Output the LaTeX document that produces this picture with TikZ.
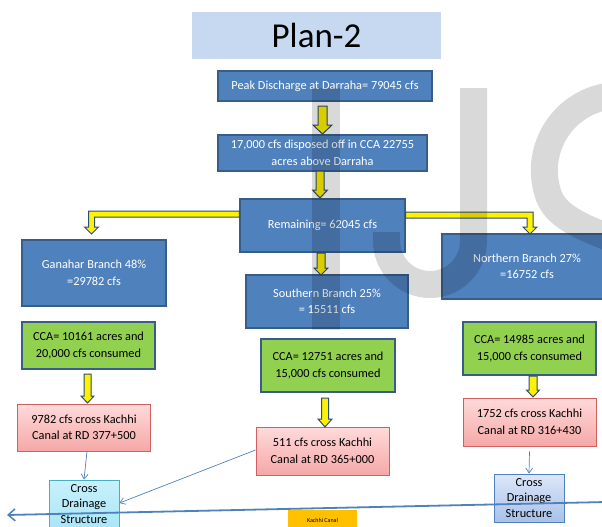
\documentclass[tikz,border=0pt]{standalone}
\usepackage{fontspec}
\setmainfont{Carlito}
\usetikzlibrary{arrows.meta,calc}
\definecolor{boxblue}{HTML}{4F81BD}
\definecolor{blueedge}{HTML}{385D8A}
\definecolor{titleblue}{HTML}{C6D9F1}
\definecolor{boxgreen}{HTML}{92D050}
\definecolor{rededge}{HTML}{D0605D}
\definecolor{redtop}{HTML}{FFDADA}
\definecolor{redbot}{HTML}{F5A8A7}
\definecolor{cyantop}{HTML}{C8F1FB}
\definecolor{cyanbot}{HTML}{A9E6F7}
\definecolor{cyanedge}{HTML}{4BACC6}
\definecolor{lbtop}{HTML}{DDE7F8}
\definecolor{lbbot}{HTML}{A7C1EA}
\definecolor{arrowedge}{HTML}{2C4D75}
\definecolor{canalorange}{HTML}{FFC000}
\newcommand\yarr[6]{%
  \draw[yarrow] (#1-#5,#2) -- (#1+#5,#2) -- (#1+#5,#3) -- (#1+#6,#3) -- (#1,#4) -- (#1-#6,#3) -- (#1-#5,#3) -- cycle;}
\begin{document}
\begin{tikzpicture}[x=1pt,y=-1pt,
  txt/.style={font=\fontsize{12.3}{16.5}\selectfont, align=center, inner sep=0pt},
  bluebox/.style={txt, draw=blueedge, line width=1.2pt, fill=boxblue, text=white},
  greenbox/.style={txt, draw=blueedge, line width=1.2pt, fill=boxgreen, text=black},
  redbox/.style={txt, draw=rededge, line width=0.9pt, top color=redtop, bottom color=redbot, text=black},
  cdtxt/.style={font=\fontsize{12.3}{15.5}\selectfont, align=center, inner sep=0pt},
  cdcyan/.style={cdtxt, draw=cyanedge, line width=0.9pt, top color=cyantop, bottom color=cyanbot, text=black},
  cdblue/.style={cdtxt, draw=boxblue, line width=0.9pt, top color=lbtop, bottom color=lbbot, text=black},
  yarrow/.style={draw=arrowedge, line width=1pt, fill=yellow, line join=miter},
  thinarr/.style={draw=boxblue, line width=0.7pt, -{Straight Barb[length=5pt,width=7pt]}},
  canal/.style={draw=boxblue, line width=1.8pt, -{Straight Barb[length=7pt,width=12pt,line width=1.5pt]}},
  wmark/.style={draw=black, draw opacity=0.15, line width=27pt}
]
\useasboundingbox (0,0) rectangle (602,527);

% title
\node[fill=titleblue, minimum width=249pt, minimum height=47pt, inner sep=0pt,
      font=\fontsize{35}{40}\selectfont] (title) at (316.5,35.5) {Plan-2};

% blue boxes
\node[bluebox, minimum width=214pt, minimum height=30pt] (peak) at (325,86) {Peak Discharge at Darraha= 79045 cfs};
\node[bluebox, minimum width=209pt, minimum height=36pt] (disp) at (322.5,153) {17,000 cfs disposed off in CCA 22755\\acres above Darraha};
\node[bluebox, minimum width=165pt, minimum height=53pt] (rem) at (322.5,225.5) {Remaining= 62045 cfs};
\node[bluebox, minimum width=144pt, minimum height=66pt] (gan) at (94,273) {Ganahar Branch 48\%\\=29782 cfs};
\node[bluebox, minimum width=162pt, minimum height=53pt] (sou) at (327,301.5) {Southern Branch 25\%\\= 15511 cfs};
\node[bluebox, minimum width=170pt, minimum height=65pt] (nor) at (527,266.5) {Northern Branch 27\%\\=16752 cfs};

% green boxes
\node[greenbox, minimum width=133pt, minimum height=47pt] (g1) at (88.5,345.5) {CCA= 10161 acres and\\20,000 cfs consumed};
\node[greenbox, minimum width=134pt, minimum height=53pt] (g2) at (328,365.5) {CCA= 12751 acres and\\15,000 cfs consumed};
\node[greenbox, minimum width=133pt, minimum height=53pt] (g3) at (529.5,348.5) {CCA= 14985 acres and\\15,000 cfs consumed};

% red boxes
\node[redbox, minimum width=133pt, minimum height=47pt] (r1) at (84,427.5) {9782 cfs cross Kachhi\\Canal at RD 377+500};
\node[redbox, minimum width=133pt, minimum height=48pt] (r2) at (322.5,451) {511 cfs cross Kachhi\\Canal at RD 365+000};
\node[redbox, minimum width=133pt, minimum height=48pt] (r3) at (529.5,422) {1752 cfs cross Kachhi\\Canal at RD 316+430};

% cross drainage structures
\node[cdcyan, minimum width=70pt, minimum height=48pt] (cd1) at (84,504) {Cross\\Drainage\\Structure};
\node[cdblue, minimum width=70pt, minimum height=48pt] (cd2) at (529,498) {Cross\\Drainage\\Structure};

% canal label
\node[fill=canalorange, minimum width=69pt, minimum height=20pt, inner sep=0pt,
      font=\fontsize{6}{7}\selectfont] (kc) at (322.5,520) {Kachhi Canal};

% yellow block arrows
\yarr{322.5}{106}{125}{134}{4.5}{9.5}
\yarr{320}{171}{190}{198}{4}{7.5}
\yarr{321}{253}{268}{275}{4}{7}
\yarr{87.5}{374}{396}{403}{3.5}{6.5}
\yarr{325}{398}{419}{427}{3.5}{7}
\yarr{533}{376}{390}{397}{4}{6.5}
% elbow arrows
\draw[yarrow] (rem.west |- 0,211) -- (88.5,211) -- (88.5,227) -- (84.5,227) -- (91.5,234)
  -- (98.5,227) -- (94.5,227) -- (94.5,217) -- (rem.west |- 0,217) -- cycle;
\draw[yarrow] (rem.east |- 0,212) -- (533,212) -- (533,227) -- (537,227) -- (530,234)
  -- (523,227) -- (527,227) -- (527,218) -- (rem.east |- 0,218) -- cycle;

% thin connectors
\draw[thinarr] ($(r1.south)+(3,0)$) -- (cd1.north);
\draw[thinarr] ($(r2.west)+(0,-1)$) -- ($(cd1.east)+(0,-1)$);
\draw[thinarr] ($(r3.south)+(0,5)$) -- (cd2.north);

% Kachhi canal line
\coordinate (cR) at (606,502);
\coordinate (cL) at (7,515);
\draw[canal] (cR) -- (cL);

% watermark
\fill[black, opacity=0.15] (311.5,88) rectangle (339.5,330);
\draw[wmark] (473.5,88) -- (473.5,241) arc (0:180:43.5) -- (386.5,232);
\draw[wmark] (645,100) arc (290:160:75) .. controls (558,220) and (590,232) .. (660,255);
\end{tikzpicture}
\end{document}
